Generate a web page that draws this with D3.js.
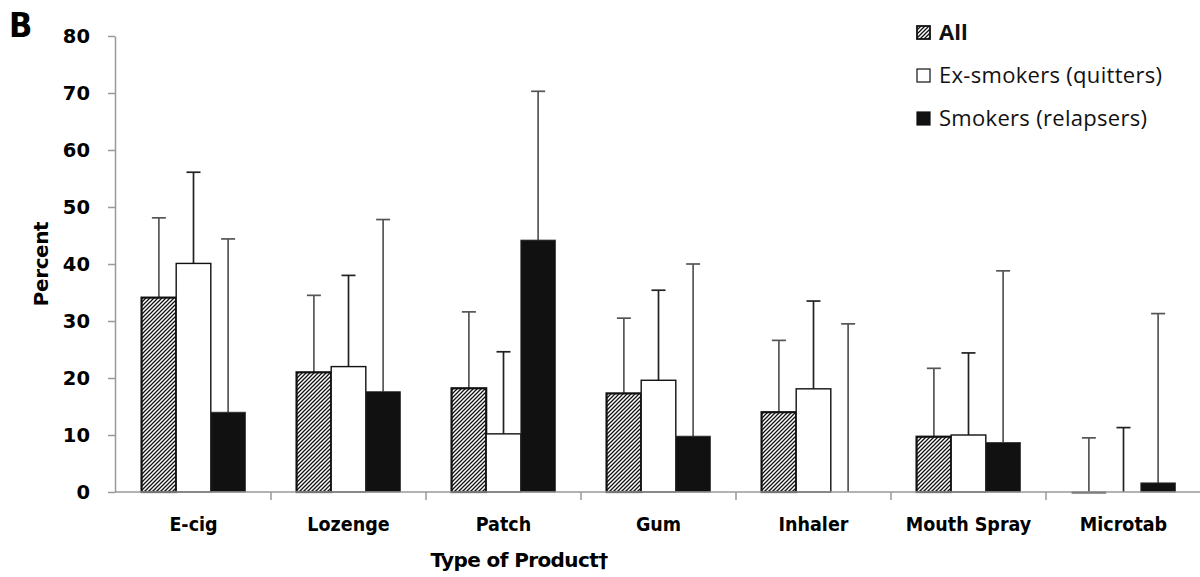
<!DOCTYPE html>
<html>
<head>
<meta charset="utf-8">
<script src="https://cdn.jsdelivr.net/npm/d3@7"></script>
<style>
  body { margin: 0; background: #fff; }
  .tick text { font-family: "DejaVu Sans", sans-serif; font-weight: bold; }
</style>
</head>
<body>
<div class="chart"></div>
<script>
const categories = ["E-cig", "Lozenge", "Patch", "Gum", "Inhaler", "Mouth Spray", "Microtab"];
const seriesNames = ["All", "Ex-smokers (quitters)", "Smokers (relapsers)"];

// bar heights (percent)
const allValues   = [34.1, 21.0, 18.2, 17.3, 14.0, 9.7, 0];
const exValues    = [40.1, 22.0, 10.2, 19.6, 18.1, 10.0, 0];
const smokValues  = [14.0, 17.6, 44.2, 9.8, 0, 8.7, 1.6];

// upper end of the error bars
const allUpper  = [48.1, 34.5, 31.6, 30.5, 26.6, 21.7, 9.5];
const exUpper   = [56.1, 38.0, 24.6, 35.4, 33.5, 24.4, 11.3];
const smokUpper = [44.4, 47.8, 70.3, 40.0, 29.5, 38.8, 31.3];

const yTicks = [0, 10, 20, 30, 40, 50, 60, 70, 80];

const width = 1200, height = 577;
const svg = d3.select(".chart").append("svg")
    .attr("width", width)
    .attr("height", height);

// hatch pattern for the "All" bars
const defs = svg.append("defs");
defs.append("pattern")
    .attr("id", "hatch")
    .attr("patternUnits", "userSpaceOnUse")
    .attr("width", 4).attr("height", 4)
  .append("path")
    .attr("d", "M-1,1 l2,-2 M0,4 l4,-4 M3,5 l2,-2")
    .attr("stroke", "#111")
    .attr("stroke-width", 1.3);

const x = d3.scaleBand()
    .domain(categories)
    .range([116, 1201]);

const xSub = d3.scaleBand()
    .domain(seriesNames)
    .range([x.bandwidth() * 0.165, x.bandwidth() * 0.835]);

const y = d3.scaleLinear()
    .domain([0, 80])
    .range([492, 36]);

const rows = categories.map((c, i) => ({
  cat: c,
  values: [
    {key: seriesNames[0], v: allValues[i], up: allUpper[i]},
    {key: seriesNames[1], v: exValues[i], up: exUpper[i]},
    {key: seriesNames[2], v: smokValues[i], up: smokUpper[i]}
  ]
}));

const fills = {
  [seriesNames[0]]: "url(#hatch)",
  [seriesNames[1]]: "#fff",
  [seriesNames[2]]: "#111"
};

// Y axis
const yAxis = svg.append("g")
    .attr("transform", "translate(115,0)")
    .call(d3.axisLeft(y).tickValues(yTicks).tickSize(7).tickSizeOuter(0).tickPadding(18));
yAxis.select(".domain").attr("stroke", "#999").attr("stroke-width", 1.5);
yAxis.selectAll(".tick line").attr("stroke", "#999").attr("stroke-width", 1.5);
yAxis.selectAll(".tick text").attr("font-size", 19.5).attr("fill", "#000");

// error bars (behind bars)
const groups = svg.append("g")
  .selectAll("g")
  .data(rows)
  .join("g")
    .attr("transform", d => `translate(${x(d.cat)},0)`);

const err = groups.selectAll("g.err")
  .data(d => d.values)
  .join("g")
    .attr("class", "err")
    .attr("stroke", d => d.key === seriesNames[1] ? "#222" : "#555")
    .attr("stroke-width", 1.7);
err.append("line")
    .attr("x1", d => xSub(d.key) + xSub.bandwidth() / 2)
    .attr("x2", d => xSub(d.key) + xSub.bandwidth() / 2)
    .attr("y1", d => y(d.v))
    .attr("y2", d => y(d.up));
err.append("line")
    .attr("x1", d => xSub(d.key) + xSub.bandwidth() / 2 - 7)
    .attr("x2", d => xSub(d.key) + xSub.bandwidth() / 2 + 7)
    .attr("y1", d => y(d.up))
    .attr("y2", d => y(d.up));

// X axis line and separators
svg.append("line")
    .attr("x1", 115).attr("x2", 1201)
    .attr("y1", y(0)).attr("y2", y(0))
    .attr("stroke", "#999").attr("stroke-width", 1.5);
svg.append("g")
  .selectAll("line")
  .data(categories.slice(1))
  .join("line")
    .attr("x1", d => x(d)).attr("x2", d => x(d))
    .attr("y1", y(0)).attr("y2", y(0) + 8)
    .attr("stroke", "#999").attr("stroke-width", 1.5);

// bars
groups.selectAll("rect")
  .data(d => d.values.filter(v => v.v > 0))
  .join("rect")
    .attr("x", d => xSub(d.key))
    .attr("y", d => y(d.v))
    .attr("width", xSub.bandwidth())
    .attr("height", d => y(0) - y(d.v))
    .attr("fill", d => fills[d.key])
    .attr("stroke", d => d.key === seriesNames[2] ? "#333" : "#111")
    .attr("stroke-width", d => d.key === seriesNames[0] ? 2.2 : (d.key === seriesNames[1] ? 1.4 : 0.8));

// a zero "All" bar still shows its outline as a flat line
groups.selectAll("line.zero")
  .data(d => d.values.filter(v => v.v === 0 && v.key === seriesNames[0]))
  .join("line")
    .attr("class", "zero")
    .attr("x1", d => xSub(d.key))
    .attr("x2", d => xSub(d.key) + xSub.bandwidth())
    .attr("y1", y(0) + 0.5)
    .attr("y2", y(0) + 0.5)
    .attr("stroke", "#333")
    .attr("stroke-width", 2);

// category labels
svg.append("g")
  .selectAll("text")
  .data(categories)
  .join("text")
    .attr("x", d => x(d) + x.bandwidth() / 2)
    .attr("y", 531)
    .attr("text-anchor", "middle")
    .attr("font-family", "'DejaVu Sans Condensed', 'DejaVu Sans', sans-serif")
    .attr("font-weight", "bold")
    .attr("font-size", 19.5)
    .text(d => d);

// axis titles
svg.append("text")
    .attr("x", 519)
    .attr("y", 567)
    .attr("text-anchor", "middle")
    .attr("font-family", "'DejaVu Sans', sans-serif")
    .attr("font-weight", "bold")
    .attr("font-size", 20)
    .attr("letter-spacing", -0.6)
    .text("Type of Product†");

svg.append("text")
    .attr("transform", "translate(48,264) rotate(-90)")
    .attr("text-anchor", "middle")
    .attr("font-family", "'DejaVu Sans', sans-serif")
    .attr("font-weight", "bold")
    .attr("font-size", 20)
    .attr("letter-spacing", -0.4)
    .text("Percent");

// panel letter
svg.append("text")
    .attr("x", 9)
    .attr("y", 37)
    .attr("font-family", "'DejaVu Sans Condensed', 'DejaVu Sans', sans-serif")
    .attr("font-weight", "bold")
    .attr("font-size", 34)
    .text("B");

// legend
const legend = svg.append("g")
  .selectAll("g")
  .data(seriesNames)
  .join("g")
    .attr("transform", (d, i) => `translate(917,${26 + i * 43})`);
legend.append("rect")
    .attr("width", 13).attr("height", 13)
    .attr("fill", d => fills[d])
    .attr("stroke", "#111")
    .attr("stroke-width", d => d === seriesNames[0] ? 1.8 : 1.2);
legend.append("text")
    .attr("x", 22)
    .attr("y", 14)
    .attr("font-family", "'Open Sans', 'Liberation Sans', sans-serif")
    .attr("font-size", 22)
    .attr("letter-spacing", (d, i) => i === 0 ? 0 : 0.3)
    .attr("font-weight", (d, i) => i === 0 ? "bold" : "normal")
    .attr("fill", "#111")
    .text(d => d);
</script>
</body>
</html>
